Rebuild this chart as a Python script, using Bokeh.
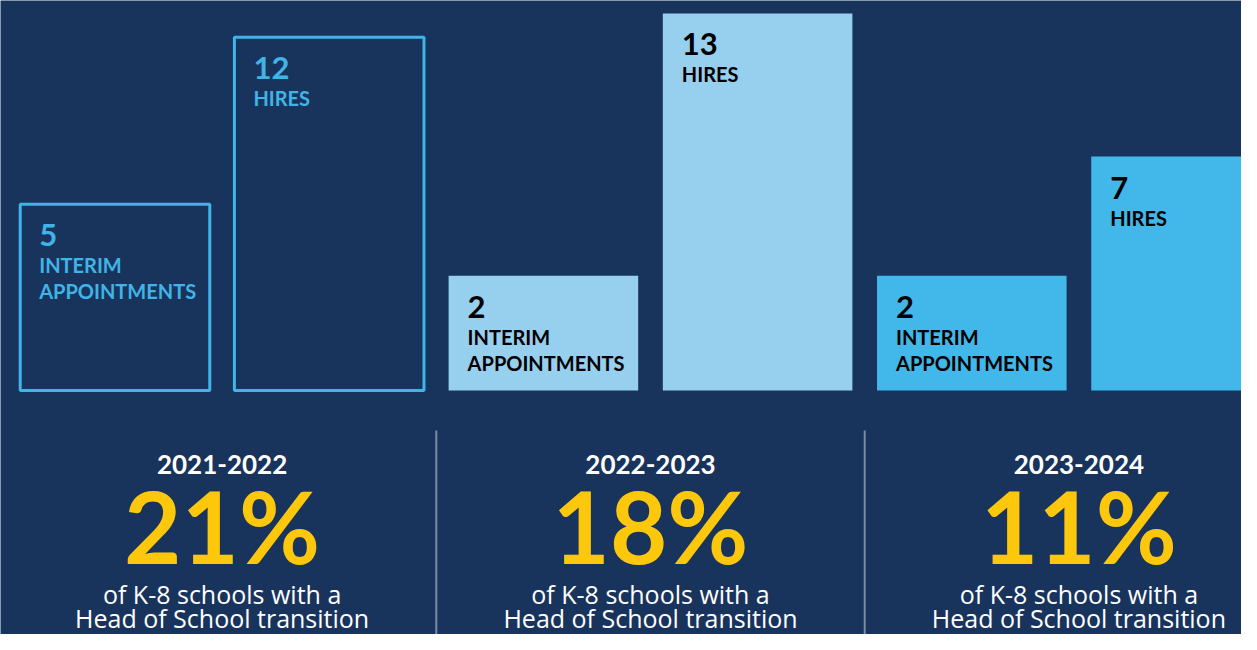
import numpy as np
from bokeh.plotting import figure
from bokeh.models import ColumnDataSource, Range1d
from bokeh.core.properties import value
from bokeh.embed import file_html
from bokeh.resources import INLINE

# ---------------- data ----------------
years = ["2021-2022", "2022-2023", "2023-2024"]
interim = [5, 2, 2]
hires = [12, 13, 7]
pct = [21, 18, 11]
kinds = ["INTERIM APPOINTMENTS", "HIRES"]
subtitle = ["of K-8 schools with a", "Head of School transition"]

# ---------------- styles ----------------
BG = "#19345c"
GROUP_FILL = ["#19345c", "#97cfef", "#42b7ea"]
GROUP_LINE_ALPHA = [1, 0, 0]
GROUP_TEXT = ["#40b4e6", "#000000", "#000000"]
OUTLINE = "#40b4e6"
YELLOW = "#fdc70c"
FONT = "Lato"
SUB_FONT = "Open Sans"

W, H = 1241, 634
PX_PER_X = 214.2       # pixels per bar slot
PX_PER_Y = 23.85       # pixels per value unit
X0 = 0.5 - 114.5 / PX_PER_X
BASE = -2.81           # visual baseline of the bars
Y_TOP = BASE + 390 / PX_PER_Y


def y_base(px, size):
    """data value for an alphabetic baseline at a given page row"""
    return Y_TOP - (px - 0.37 * size) / PX_PER_Y


# ---------------- bar table ----------------
vals, fills, lalpha, tcol, num, l1, l2 = [], [], [], [], [], [], []
for g in range(len(years)):
    for k, v in enumerate([interim[g], hires[g]]):
        vals.append(v)
        fills.append(GROUP_FILL[g])
        lalpha.append(GROUP_LINE_ALPHA[g])
        tcol.append(GROUP_TEXT[g])
        num.append(str(v))
        parts = kinds[k].split(" ", 1)
        l1.append(parts[0])
        l2.append(parts[1] if len(parts) > 1 else "")

BAR_W = 0.885
xs = np.arange(len(vals)) + 0.5
bars = ColumnDataSource(dict(
    x=xs, left=xs - BAR_W / 2, top=vals, bottom=[BASE] * len(vals),
    fill=fills, lalpha=lalpha, tcol=tcol, num=num, l1=l1, l2=l2,
))

p = figure(width=W, height=H, output_backend="svg", toolbar_location=None,
           x_range=Range1d(X0, X0 + W / PX_PER_X),
           y_range=Range1d(Y_TOP - H / PX_PER_Y, Y_TOP),
           x_axis_location=None, y_axis_location=None,
           background_fill_color=BG, border_fill_color=BG,
           outline_line_color=None, min_border=0)
p.grid.visible = False

p.vbar(x="x", top="top", bottom="bottom", width=BAR_W, source=bars,
       fill_color="fill", line_color=OUTLINE, line_alpha="lalpha", line_width=3)

p.text(x="left", y="top", text="num", source=bars, x_offset=19, y_offset=31,
       text_color="tcol", text_font=value(FONT), text_font_style="bold",
       text_font_size="31px", text_align="left", text_baseline="alphabetic")
p.text(x="left", y="top", text="l1", source=bars, x_offset=19, y_offset=61,
       text_color="tcol", text_font=value(FONT), text_font_style="bold",
       text_font_size="20px", text_align="left", text_baseline="alphabetic")
p.text(x="left", y="top", text="l2", source=bars, x_offset=19, y_offset=87,
       text_color="tcol", text_font=value(FONT), text_font_style="bold",
       text_font_size="20px", text_align="left", text_baseline="alphabetic")

# ---------------- lower panel ----------------
gx = [2 * g + 1 for g in range(len(years))]
lower = ColumnDataSource(dict(
    x=gx, year=years, pct=[f"{v}%" for v in pct],
    s1=[subtitle[0]] * len(years), s2=[subtitle[1]] * len(years),
))

p.segment(x0=[2, 4], x1=[2, 4], y0=[Y_TOP - 430 / PX_PER_Y] * 2,
          y1=[Y_TOP - 660 / PX_PER_Y] * 2, line_color="#7f8ba0", line_width=2)

p.text(x="x", y=y_base(474, 26), text="year", source=lower, text_color="white",
       text_font=value(FONT), text_font_style="bold", text_font_size="26px",
       text_align="center", text_baseline="alphabetic")
p.text(x="x", y=y_base(562, 99), text="pct", source=lower, text_color=YELLOW,
       text_font=value(FONT), text_font_style="bold", text_font_size="99px",
       text_align="center", text_baseline="alphabetic")
p.text(x="x", y=y_base(603, 25), text="s1", source=lower, text_color="white",
       text_font=value(SUB_FONT), text_font_size="25px",
       text_align="center", text_baseline="alphabetic")
p.text(x="x", y=y_base(627, 25), text="s2", source=lower, text_color="white",
       text_font=value(SUB_FONT), text_font_size="25px",
       text_align="center", text_baseline="alphabetic")

open("out.html", "w").write(file_html(p, INLINE))
